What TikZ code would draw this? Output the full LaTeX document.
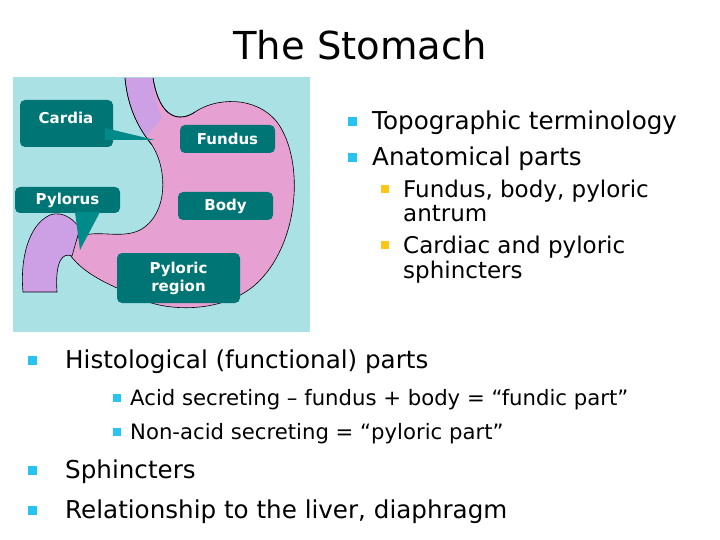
\documentclass[tikz,border=0pt]{standalone}
\usepackage{fontspec}
\setmainfont{DejaVu Sans}
\begin{document}
\begin{tikzpicture}[x=1pt,y=-1pt,
  txt/.style={anchor=base west,inner sep=0pt,font=\fontsize{24.6}{28}\selectfont},
  sub/.style={anchor=base west,inner sep=0pt,font=\fontsize{21.2}{25}\selectfont},
  subr/.style={anchor=base west,inner sep=0pt,font=\fontsize{23}{25}\selectfont},
  b1/.style={fill=bcyan,draw=none,minimum size=9pt,inner sep=0pt},
  b2/.style={fill=bgold,draw=none,minimum size=8pt,inner sep=0pt},
  lab/.style={fill=teal!85!black,rounded corners=5pt,text=white,font=\bfseries\fontsize{15}{18}\selectfont,align=center,inner sep=0pt}]
\definecolor{bg}{RGB}{170,225,228}
\definecolor{pinkst}{RGB}{230,160,210}
\definecolor{purp}{RGB}{205,160,230}
\definecolor{teal}{RGB}{0,138,138}
\definecolor{bcyan}{RGB}{40,195,240}
\definecolor{bgold}{RGB}{250,200,20}
\useasboundingbox (0,0) rectangle (720,540);
\fill[bg] (13,77) rectangle (310,332);
% stomach body
\draw[fill=pinkst,line width=0.6pt] (125,78) .. controls (128,110) and (140,130) .. (152,145)
  .. controls (168,170) and (168,215) .. (140,230)
  .. controls (120,240) and (95,228) .. (77,238)
  -- (70,255)
  .. controls (85,275) and (110,285) .. (133,295)
  .. controls (160,312) and (220,315) .. (255,285)
  .. controls (300,245) and (305,160) .. (277,122)
  .. controls (255,95) and (215,98) .. (195,112)
  .. controls (180,122) and (160,120) .. (153,78);
% esophagus (purple part)
\fill[purp] (125.4,78) .. controls (128,105) and (136,122) .. (146,137) -- (162,118)
  .. controls (157,108) and (154,95) .. (152.6,78) -- cycle;
\draw[line width=0.6pt] (125,78) .. controls (128,110) and (140,130) .. (152,145);
\draw[line width=0.6pt] (195,112) .. controls (180,122) and (160,120) .. (153,78);
% pylorus tube
\draw[fill=purp,line width=0.6pt] (23,292) .. controls (20,260) and (28,225) .. (50,215)
  .. controls (65,210) and (75,222) .. (80,228) -- (72,256)
  .. controls (62,252) and (55,262) .. (57,292) -- cycle;
% labels
\node[lab,minimum width=93pt,minimum height=47pt] (card) at (66.5,123.5) {};
\node[font=\bfseries\fontsize{15}{18}\selectfont,text=white] (cardt) at (66,118) {Cardia};
\coordinate (ct) at (155,140);
\fill[teal] (105,128) -- (ct) -- (105,140) -- cycle;
\node[lab,minimum width=95pt,minimum height=28pt] (fund) at (227.5,139) {Fundus};
\node[lab,minimum width=105pt,minimum height=26pt] (pyl) at (67.5,200) {Pylorus};
\coordinate (pt) at (80,250);
\fill[teal] (75,212) -- (pt) -- (100,212) -- cycle;
\node[lab,minimum width=95pt,minimum height=28pt] (body) at (225.5,206) {Body};
\node[lab,minimum width=123pt,minimum height=50pt] (pr) at (178.5,278) {Pyloric\\region};
% title
\node[inner sep=0pt,anchor=base,font=\fontsize{38.5}{42}\selectfont] (title) at (360,60) {The Stomach};
% right bullets
\node[b1] (q1) at (352,122) {}; \node[txt] (t1) at (372,130) {Topographic terminology};
\node[b1] (q2) at (352,158) {}; \node[txt] (t2) at (372,166) {Anatomical parts};
\node[b2] (q3) at (385,189) {}; \node[subr] (t3) at (403,197) {Fundus, body, pyloric};
\node[subr] (t3b) at (403,222) {antrum};
\node[b2] (q4) at (385,245) {}; \node[subr] (t4) at (403,253) {Cardiac and pyloric};
\node[subr] (t4b) at (403,278) {sphincters};
% bottom bullets
\node[b1] (q5) at (32,360) {}; \node[txt] (t5) at (65,368) {Histological (functional) parts};
\node[b1,minimum size=8pt] (q6) at (117,398) {}; \node[sub] (t6) at (130,405) {Acid secreting – fundus + body = “fundic part”};
\node[b1,minimum size=8pt] (q7) at (117,432) {}; \node[sub] (t7) at (130,439) {Non-acid secreting = “pyloric part”};
\node[b1] (q8) at (32,470) {}; \node[txt] (t8) at (65,478) {Sphincters};
\node[b1] (q9) at (32,510) {}; \node[txt] (t9) at (65,518) {Relationship to the liver, diaphragm};
\end{tikzpicture}
\end{document}
